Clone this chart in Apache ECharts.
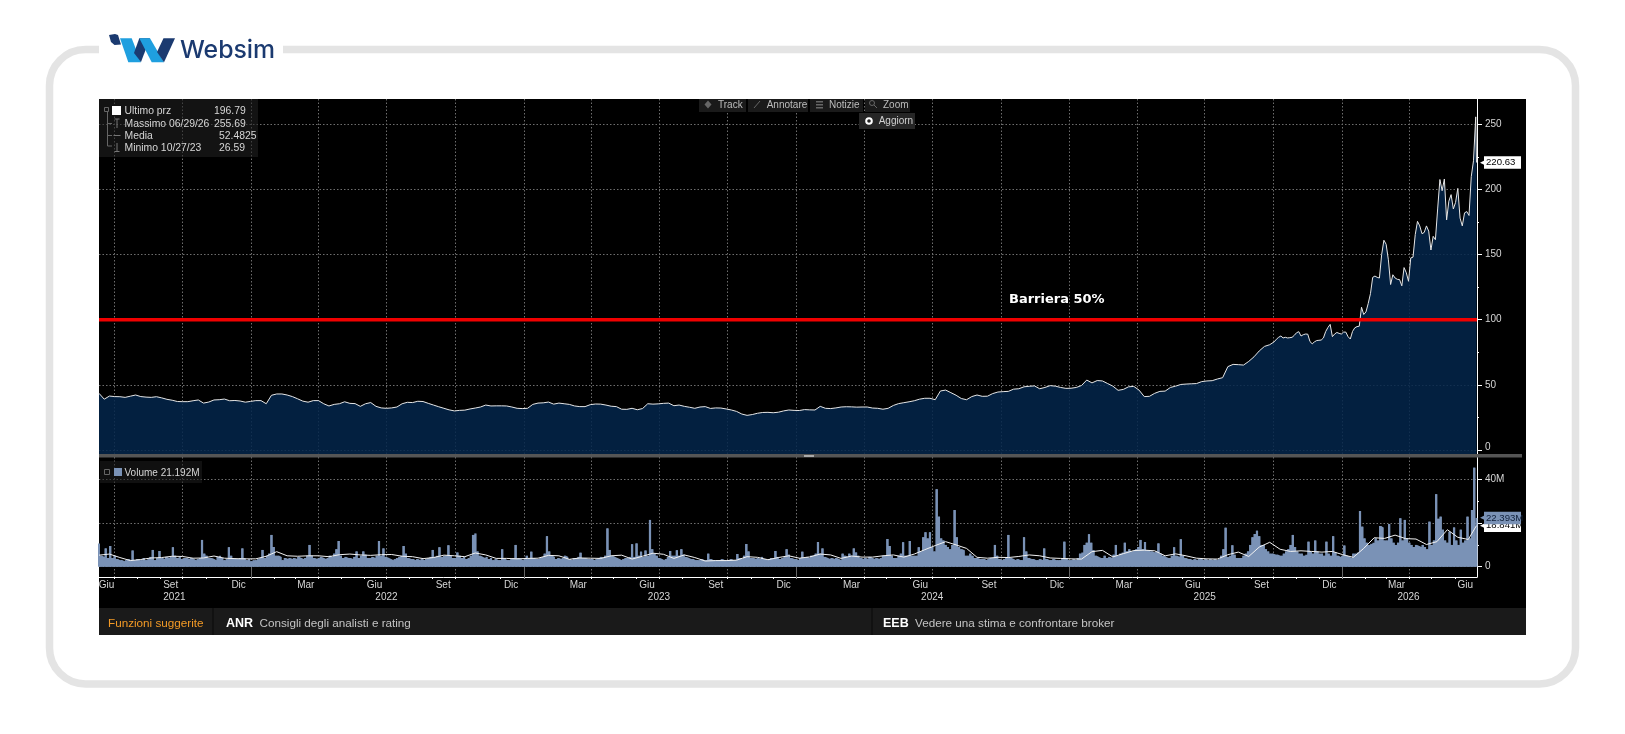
<!DOCTYPE html>
<html>
<head>
<meta charset="utf-8">
<title>Websim</title>
<script src="https://cdn.jsdelivr.net/npm/echarts@6/dist/echarts.min.js"></script>
<style>
html,body{margin:0;padding:0;background:#fff}
#chart{width:1625px;height:734px}
</style>
</head>
<body>
<div id="chart"></div>
<script>
// Weekly closes from 2021-06-11 to late September 2025
const priceWeekly = [
43.5,39,41.4,41,40.9,40.4,41.3,42.2,41,40.6,
40.4,40.9,40,38.9,38.2,37.2,37.1,37.1,37.8,38.4,
36,36.8,38.4,38.6,39.1,37.8,38,37.6,36.7,37.3,
37.9,37.9,35.5,42,43,43,42.2,41,39.3,37.5,
36.7,37.9,37.9,35.5,33.8,35,35.5,37,35.8,35.6,
33.5,35.5,36.4,33.5,32.3,32,32.3,33,35.5,36.6,
36.4,37.4,37.2,35.8,34.5,33.2,32,30.8,30,30.4,
30.6,31.5,32.2,33,34.5,33.8,33.9,33.9,33.8,33,
32,31.8,32,35,36,36.2,36.8,35.2,36,35.5,
35,33.8,33.3,33.3,34.8,35.3,35.2,34.5,33.6,33.3,
31.3,31.2,32,30.9,31.8,35.5,35.2,35.4,35.8,36,
34,34.5,33.5,32.8,32,33,33.3,31.9,32.3,32.2,
31.5,30.7,29.6,27.6,26.59,27.2,28.2,28.8,28.9,28.6,
29,30,30.7,30.4,30.3,31,30.8,30.7,33.5,32,
31.8,32.3,33,33.2,33.1,32.9,33,33,32.2,32,
31.3,32,34.2,35.6,36.3,37,37.8,39,39.7,39.7,
38.6,45.3,46,44,42,39.5,38.6,41,42.2,41.2,
41.3,43.3,44.5,44.8,45,46.7,47,48.5,48.9,49.2,
47,48,49.4,49,48,47.3,47.4,48,49.5,53.7,
51.5,53.3,53,51,49,45.8,46.5,48.5,48.8,46,
41,41.2,43.5,45,45.2,48,49,50.3,50.6,50.8,
51,52.5,53,53.2,54.5,55.5,64,65.7,65.5,65.2,
68,71.5,76,79.5,80.8
];

// Closes every third day from 2025-10-02, the last one being 2026-06-30
const priceRecent = [
83,85,86.5,87.5,86,86.5,86,86.2,86.5,88,
90,90.8,87.5,88.5,89,88.9,83.2,81.5,83,84,
84.2,84.4,86,90.9,94,96.4,87,89,90.2,89.5,
89,90.5,90.5,87,85.2,91,93.8,94.7,95,109.6,
104,106,112.5,120,132.5,133.5,132.5,132,150,161,
157.9,146,127,134.5,132,131,130.8,126,140,136,
129.5,147.4,148,165.4,175.5,172,166,167,172,168,
153.5,164,161.4,185,207.6,199,208,176.6,191,196,
185,190,200.8,178,172,182,183,180,209.8,222,
255.69,220.63
];

// Traded volume in millions, one bar every third day from 2021-06-11
const volumes = [
10.7,5,4.5,8.4,4,9.5,4,5,3.5,3,
3,2.5,3,3.5,3,7.4,3,3.5,3,3,
4,3,3.5,4.5,7.7,3,4,7.2,4,3.5,
4.5,4,4.5,8.9,5,4,4.5,3.5,4,4,
3.5,4,3.5,3,3.5,4,12.3,6,5,4,
4,3.5,3,4.5,5,4,3,3.5,8.9,5,
4,3.5,3.5,4,8.4,4,3,3.5,2.5,3,
3,3.5,4,7.7,4,5,6,14.6,9,5,
5,4.5,3,4,3.5,4,3.5,4,3.5,4.5,
4,3.5,4,5,10,5,4,3.5,4,4.5,
4,3.5,4,5,4.5,6,8,11.8,5,4,
4.5,4,4,3.5,4.5,7,4,5,7,5.5,
4,4,4.5,4,5,11.8,5,8.4,4.5,4,
3.5,3,3.5,4,4.5,5,9.5,6,4,3.5,
3.5,3,3.5,3,3.5,3,3.5,4,4.5,7.7,
4.5,5,8.9,4.5,5,5,9.8,5,4,4,
6.5,5,4,4.5,3.5,4,5,14.6,15.3,7,
5,4.5,4,4.5,3.5,4,3,3.5,3,3,
8,3.5,3,3,3.5,4,10,4,3.5,3,
3.5,5,4,6.9,4,3.5,3.5,4,4.5,6,
14,7,5,4.5,3.5,4,3.5,4,5,4.5,
3.5,3,4,4,4.5,6.4,4,4,3.5,3.5,
3.5,3,3.5,4,4.5,4,5,17.6,7.7,5,
4.5,4,3.5,3,3.5,4,4,4.5,10.3,4.5,
10.7,5,6.9,4.5,7.4,5,21.5,8,6,5,
4,3.5,3,3.5,4.5,7.2,5,5,7.5,5,
8,5.5,4.5,4,3.5,3.5,3,3,3,3.5,
3,3,6,3.5,3,3,2.8,3,3.5,3,
3,3,3.5,3,3,5.8,4,3.5,5,10.4,
7,4,4,3.5,4,3.5,4.5,3.5,3,3.5,
4,3.5,7.2,4.5,3.5,4,4.5,8,5.5,4,
3.5,3.5,3,4,6.9,4,4.5,4,5,5,
6,11.3,6,8.4,4.5,4,3.5,4,3.5,4,
3.5,3,6,5,4.5,6,5,8.4,6.5,5,
4,3.5,4,3.5,4.5,4,3.5,4,3.5,4,
5,5,12.7,9.5,5,4,4,5,6,11.2,
5,5,11.8,5,5,5,8.9,7,13.5,15.8,
13,15.8,9,7,35.6,23,13,12,10,9,
8,10,26,13.5,9,8,7.5,5,5,6,
5,4,4,3.5,3.5,3.5,3,3.5,4,4,
10,5,3.5,3,3.5,4,14.6,4,3.5,3,
3.5,3,3,13.5,7,4,3.5,3.5,3,3,
3.5,3,8.4,3.5,3,3,3.5,3,3,3,
3.5,11.5,4,3,3,3.5,3,4,6,6.5,
10,11,14.9,11,7.5,5,4.5,4,4,5,
4,4.5,4,5.5,10,5,6,6.5,11,7,
8,7,7.5,8,9,12.3,8,11.3,7.5,7,
7,6.5,7,10.7,6,5,4.5,4,4,5,
8.9,5,4.5,12.6,5,4,3.5,3.5,3,3.5,
3,3.5,3.5,3,3.5,3,3.5,3,3.5,3,
3.5,5,8,17.9,4.5,5,9.8,5.5,4,4,
4,5,6,7,10,13.5,15,16.5,14,10,
10,8,7,6,6,5.5,5.5,5,5,6,
7,8,10,14.6,9,7,6,6,5,5.5,
11.5,7,6,12,7,6,6,5,11.5,6,
5,14,6.5,5,4.5,5,9.7,5,4.5,4,
6,6,6.5,25.6,18.4,13,11,10,10.5,11,
13,12,18.7,18,12,12,19.6,13,11,10,
11,22.2,12,21.5,13,11,10,9,10,9.5,
9,10,9,8,20.7,10,12,33.3,22,23,
17,12,11,16,10,18,12,10,17,11,
12,23,13,26,45.5,22.393
];

// Volume moving average in millions, one point every two weeks
const volumeAverage = [
5.3,5.8,4.2,2.8,3.3,4,4.2,4.8,4.7,3.9,
4,4.9,3.9,3.7,3.6,3.6,4.8,6.9,5,4.8,
5,5,4.6,5.5,5.8,5.4,5.2,5.5,5.6,4.8,
4.6,3.7,4.2,5.3,5,4.6,6.3,5.4,3.8,3.8,
3.6,3.8,3.9,5.2,5,3.4,4,3.9,3.8,5,
5.3,3.5,4.8,6.2,5.7,3.8,5.4,4.2,2.6,2.8,
2.8,3,4.6,4.3,3.2,4.2,5,3.9,4.5,5.8,
5.4,3.8,4.9,4.4,4.4,5,5.4,4.4,5.8,7.8,
9.7,11.5,10,8.4,4.3,3.9,4.3,4.2,4.7,5.4,
5,4,3.8,3.6,3.5,6.9,7.5,4.5,6,7.4,
7.6,7.3,5,5.9,5,3.9,3.6,3.5,5.5,6.7,
4.7,9,11.2,8,7,7.3,7,6.7,7,5.5,
4.3,8.4,13.3,13,14.5,12.9,12.7,10.2,11.5,17,
13.5,12.5,18.841
];

const barrierLevel = 100;
const priceTicks = [0,50,100,150,200,250];
const priceMinorTicks = [25,75,125,175,225];
const volumeGridTicks = [0,20,40];
const volumeLabelTicks = [0,40];
const volumeMinorTicks = [10,30];
const lastPrice = 220.63;
const lastVolume = 22.393;
const lastVolumeAverage = 18.841;
const monthNames = ['Gen','Feb','Mar','Apr','Mag','Giu','Lug','Ago','Set','Ott','Nov','Dic'];

const DAY = 86400000;
const utc = (y,m,d) => Date.UTC(y,m,d);
const startDate = utc(2021,5,11);
const endDate = utc(2026,5,30);
const axisEnd = endDate + DAY*0.7;

// Time stamps for each series
const priceDates = priceWeekly.map((_,i)=>startDate+i*7*DAY)
  .concat(priceRecent.map((_,i)=> i===priceRecent.length-1 ? endDate : utc(2025,9,2)+i*3*DAY));
const priceData = priceWeekly.concat(priceRecent).map((v,i)=>[priceDates[i],v]);
const volumeData = volumes.map((v,i)=>[startDate+i*3*DAY,v]);
const averageData = volumeAverage.map((v,i)=>[i===volumeAverage.length-1?endDate:startDate+i*14*DAY,v]);

// Calendar marks on the shared date scale (milliseconds)
const quarterStarts=[], monthStarts=[], monthCentres=[], yearStarts=[];
for(let y=2021;y<=2026;y++){
  for(let m=0;m<12;m++){
    const t=utc(y,m,1);
    if(t>startDate && t<axisEnd){
      monthStarts.push(t);
      if(m%3===0) quarterStarts.push(t);
      if(m===0) yearStarts.push(t);
    }
  }
}
for(let y=2021;y<=2026;y++){
  for(const m of [2,5,8,11]){
    const t = utc(y,m,15);
    if(t>utc(2021,5,20) && t<axisEnd) monthCentres.push(t);
  }
}
monthCentres.unshift(utc(2021,5,21));
const yearCentres=[utc(2021,8,20),utc(2022,6,1),utc(2023,6,1),utc(2024,6,1),utc(2025,6,1),utc(2026,2,31)];

const UI='"Liberation Sans",Arial,sans-serif';
const LABEL='#d6d6d6';
const GRID='#6e6e6e';
const VOL='#7a92b6';
const dotted={color:GRID,type:[1.5,2],width:1};
const off={show:false};

function dateAxis(gridIndex,extra){
  return Object.assign({type:'value',gridIndex,min:startDate,max:axisEnd,scale:true,
    axisLine:off,axisTick:off,axisLabel:off,splitLine:off,silent:true},extra);
}
function sideAxis(gridIndex,min,max,extra){
  return Object.assign({type:'value',gridIndex,position:'right',min,max,
    axisLine:off,axisTick:off,axisLabel:off,splitLine:off,silent:true},extra);
}
function tag(value,text,bg,fg){
  return {show:true,customValues:[value],margin:3,hideOverlap:false,
    formatter:()=>`{a|◀}{b|${text}}`,
    rich:{
      a:{color:bg,fontSize:9,fontFamily:'DejaVu Sans',width:5,padding:[0,-1,0,0]},
      b:{color:fg,backgroundColor:bg,fontFamily:UI,fontSize:9.6,width:34,height:12.5,lineHeight:12.5,padding:[0,1,0,2]}
    }};
}

const txt=(x,y,text,fill,font,extra)=>Object.assign({type:'text',z:60,silent:true,
  style:{x,y:y+1,text,fill:fill||LABEL,font:font||`10.4px ${UI}`,textVerticalAlign:'middle'}},extra||{});
const box=(x,y,width,height,fill,z)=>({type:'rect',z:z===undefined?50:z,silent:true,shape:{x,y,width,height},style:{fill}});
const seg=(x1,y1,x2,y2,stroke)=>({type:'line',z:60,silent:true,shape:{x1,y1,x2,y2},style:{stroke:stroke||'#666',lineWidth:1}});
const poly=(points,fill,extra)=>Object.assign({type:'polygon',z:60,silent:true,shape:{points},style:{fill}},extra||{});

const DARK='#1b3a70', SKY='#1f9fdf';
const TOOL=`10px ${UI}`;
const FOOT=`11.7px ${UI}`;

const decorations=[
  // outer card and its header gap
  {type:'rect',z:-20,silent:true,shape:{x:49.5,y:49.5,width:1526,height:634.5,r:36},style:{fill:'#fff',stroke:'#e4e4e4',lineWidth:7.5}},
  box(99,40,184,20,'#fff',-19),
  // brand mark
  poly([[109,35],[115,34],[118,35],[121,44.5],[114.5,45],[111,42]],DARK),
  poly([[120,38.3],[131.7,38.3],[141,62.3],[128.3,62.3]],SKY),
  poly([[134,53],[139.3,38.3],[150,38.3],[141,62]],DARK),
  poly([[139.3,38.3],[150,38.3],[164,62.3],[151.7,62.3]],SKY),
  poly([[157,52],[163.5,38.3],[175,38.3],[164,62.3]],DARK),
  txt(180,50,'Websim',DARK,'500 24.8px Inter, Lato, sans-serif'),
  // terminal background
  box(99,99,1427,509,'#000',-10),
  box(99,608,1427,27,'#1a1a1a',50),
  box(99,454,1423,3.4,'#555',30),
  box(804,455,10,2,'#aaa',31),
  // price legend
  box(99,99,159,58,'rgba(34,34,34,0.55)',40),
  box(112,106,9,9,'#fff',60),
  {type:'rect',z:60,silent:true,shape:{x:104.5,y:107.5,width:4,height:4},style:{fill:'none',stroke:'#666',lineWidth:1}},
  seg(107.5,112,107.5,146),seg(107.5,123.5,112,123.5),seg(107.5,135.5,112,135.5),seg(107.5,146,112,146),
  seg(117,119,117,128,'#777'),seg(114.5,119,119.5,119,'#777'),
  seg(113.5,135.5,120.5,135.5,'#777'),
  seg(117,143,117,151.5,'#777'),seg(114.5,151.5,119.5,151.5,'#777'),
  txt(124.5,110.5,'Ultimo prz'),txt(214,110.5,'196.79'),
  txt(124.5,122.8,'Massimo 06/29/26'),txt(214,122.8,'255.69'),
  txt(124.5,135,'Media'),txt(219,135,'52.4825'),
  txt(124.5,147,'Minimo 10/27/23'),txt(219,147,'26.59'),
  // toolbar
  box(699,99,47,13,'#1a1a1a',40),box(748,99,60,13,'#1a1a1a',40),
  box(810,99,53,13,'#1a1a1a',40),box(865,99,45,13,'#1a1a1a',40),
  box(859,113,56,16,'#262626',40),
  poly([[708,100.5],[711.5,104.5],[708,108.5],[704.5,104.5]],'#666'),
  seg(754,108,760,101,'#666'),
  box(816,101,7,1.5,'#666',60),box(816,104,7,1.5,'#666',60),box(816,107,7,1.5,'#666',60),
  {type:'circle',z:60,silent:true,shape:{cx:872,cy:103,r:2.5},style:{fill:'none',stroke:'#666',lineWidth:1}},
  seg(874,105,877,108),
  {type:'circle',z:60,silent:true,shape:{cx:869,cy:121,r:2.8},style:{fill:'#222',stroke:'#fff',lineWidth:2}},
  txt(718,104,'Track','#bdbdbd',TOOL),txt(766.7,104,'Annotare','#bdbdbd',TOOL),
  txt(829,104,'Notizie','#bdbdbd',TOOL),txt(883,104,'Zoom','#bdbdbd',TOOL),txt(878.7,120.5,'Aggiorn','#d0d0d0',TOOL),
  // annotation on the barrier
  txt(1009,299,'Barriera 50%','#fff','bold 13px "DejaVu Sans", sans-serif'),
  // volume legend
  box(100,461,102,22,'rgba(30,30,30,0.55)',40),
  {type:'rect',z:60,silent:true,shape:{x:104.5,y:469.5,width:5,height:5},style:{fill:'none',stroke:'#666',lineWidth:1}},
  box(114,468,8,8,VOL,60),
  txt(124.5,472.5,'Volume 21.192M',LABEL,`10px ${UI}`),
  // footer
  box(212,608,2,27,'#111',60),box(871,608,2,27,'#111',60),
  txt(108,623,'Funzioni suggerite','#f39a26',FOOT),
  txt(226,623,'ANR','#fff',`bold 12.5px ${UI}`),
  txt(259.5,623,'Consigli degli analisti e rating','#c4c4c4',FOOT),
  txt(883,623,'EEB','#fff',`bold 12.5px ${UI}`),
  txt(915,623,'Vedere una stima e confrontare broker','#c4c4c4',FOOT)
];

const chart=echarts.init(document.getElementById('chart'),null,{renderer:'canvas'});
chart.setOption({
  animation:false,
  backgroundColor:'#fff',
  textStyle:{fontFamily:UI},
  tooltip:{show:false},
  graphic:{elements:decorations},
  grid:[
    {left:99,width:1378,top:99,height:356},
    {left:99,width:1378,top:457,height:120}
  ],
  xAxis:[
    dateAxis(0,{axisTick:{show:false,customValues:quarterStarts},splitLine:{show:true,lineStyle:dotted}}),
    dateAxis(1,{axisTick:{show:false,customValues:quarterStarts},splitLine:{show:true,lineStyle:dotted}}),
    // month ticks and quarter labels under the volume panel
    dateAxis(1,{position:'bottom',
      axisLine:{show:true,onZero:false,lineStyle:{color:'#fff',width:1}},
      axisTick:{show:true,customValues:monthStarts,length:2,lineStyle:{color:'#fff'}},
      axisLabel:{show:true,customValues:monthCentres,color:LABEL,fontFamily:UI,fontSize:10,margin:3,hideOverlap:false,
        formatter:v=>monthNames[new Date(v).getUTCMonth()]}}),
    // year names
    dateAxis(1,{position:'bottom',
      axisLabel:{show:true,customValues:yearCentres,color:LABEL,fontFamily:UI,fontSize:10,margin:15,hideOverlap:false,
        formatter:v=>String(new Date(v).getUTCFullYear())}}),
    // separators between years
    dateAxis(1,{position:'bottom',offset:13,
      axisTick:{show:true,customValues:yearStarts,length:12,lineStyle:{color:'#666'}}})
  ],
  yAxis:[
    sideAxis(0,-3.84,269.4,{
      axisLine:{show:true,lineStyle:{color:'#fff',width:1}},
      axisTick:{show:true,customValues:priceTicks,length:5,lineStyle:{color:'#fff',width:1}},
      axisLabel:{show:true,customValues:priceTicks,color:LABEL,fontFamily:UI,fontSize:10,margin:8,hideOverlap:false,
        formatter:v=>v===0?'{z|0}':String(v),rich:{z:{color:LABEL,fontFamily:UI,fontSize:10,padding:[0,0,6,0]}}},
      splitLine:{show:true,lineStyle:dotted}}),
    sideAxis(0,-3.84,269.4,{axisTick:{show:true,customValues:priceMinorTicks,length:2,lineStyle:{color:'#fff'}}}),
    sideAxis(0,-3.84,269.4,{axisLabel:tag(lastPrice,lastPrice.toFixed(2),'#fff','#000')}),
    sideAxis(1,-4.74,50.4,{
      axisLine:{show:true,lineStyle:{color:'#fff',width:1}},
      axisTick:{show:true,customValues:volumeGridTicks,length:5,lineStyle:{color:'#fff',width:1}},
      axisLabel:{show:true,customValues:volumeLabelTicks,color:LABEL,fontFamily:UI,fontSize:10,margin:8,hideOverlap:false,
        formatter:v=>v===0?'0':v+'M'},
      splitLine:{show:true,lineStyle:dotted}}),
    sideAxis(1,-4.74,50.4,{axisTick:{show:true,customValues:volumeMinorTicks,length:2,lineStyle:{color:'#fff'}}}),
    sideAxis(1,-4.74,50.4,{axisLabel:tag(lastVolumeAverage,lastVolumeAverage.toFixed(3)+'M','#fff','#000')}),
    sideAxis(1,-4.74,50.4,{axisLabel:tag(lastVolume,lastVolume.toFixed(3)+'M',VOL,'#10203a')})
  ],
  series:[
    {name:'Ultimo prz',type:'line',xAxisIndex:0,yAxisIndex:0,data:priceData,showSymbol:false,silent:true,
      lineStyle:{color:'#e6e6e6',width:1},
      areaStyle:{color:'#03264b',opacity:0.85,origin:'start'}},
    {name:'Barriera 50%',type:'line',xAxisIndex:0,yAxisIndex:0,z:4,showSymbol:false,silent:true,
      data:[[startDate,barrierLevel],[axisEnd,barrierLevel]],
      lineStyle:{color:'#f00000',width:3.5}},
    // the stepped fill closes the sub-pixel gaps left between the narrow bars
    {name:'Volume fill',type:'line',xAxisIndex:1,yAxisIndex:3,step:'middle',data:volumeData,showSymbol:false,silent:true,
      lineStyle:{width:0},areaStyle:{color:VOL,opacity:1}},
    {name:'Volume',type:'bar',xAxisIndex:1,yAxisIndex:3,data:volumeData,barWidth:2,silent:true,
      itemStyle:{color:VOL}},
    {name:'Media volume',type:'line',xAxisIndex:1,yAxisIndex:3,z:4,data:averageData,showSymbol:false,silent:true,
      lineStyle:{color:'#f2f2f2',width:1}}
  ]
});
</script>
</body>
</html>
